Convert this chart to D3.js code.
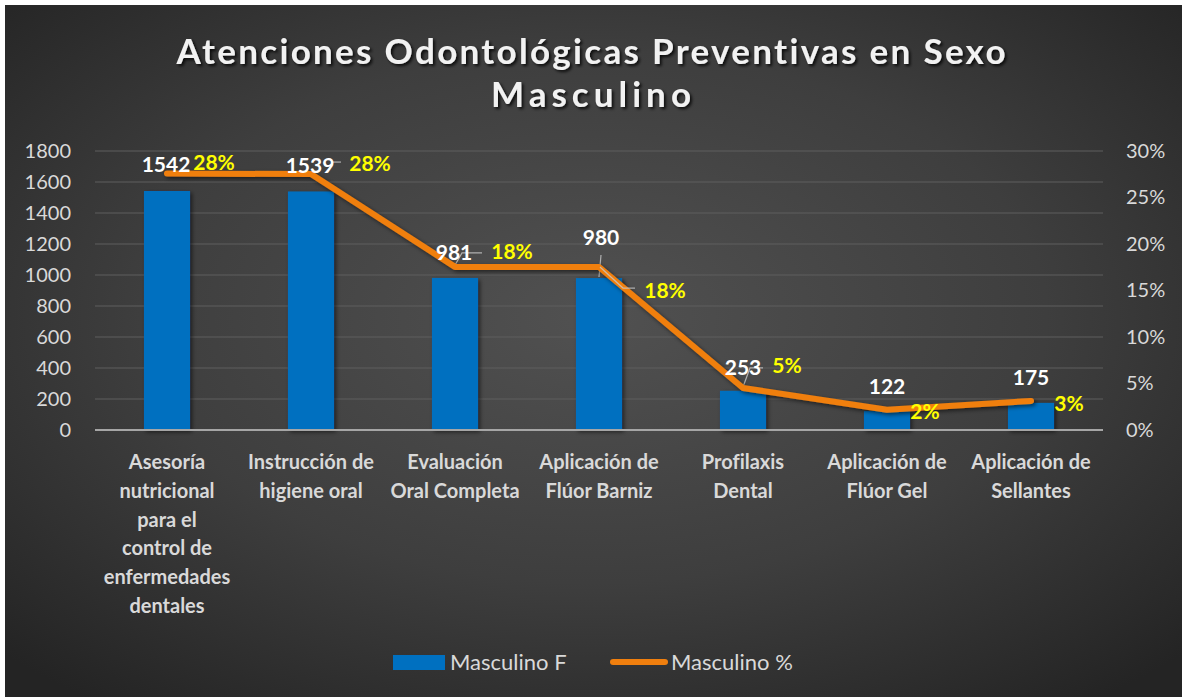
<!DOCTYPE html>
<html>
<head>
<meta charset="utf-8">
<script src="https://cdn.jsdelivr.net/npm/d3@7"></script>
<style>
  body { margin: 0; background: #fff; }
  svg text { font-family: Lato, "Open Sans", sans-serif; font-variant-ligatures: none; }
</style>
</head>
<body>
<svg id="chart"></svg>
<script>
// ---- data ----
const categories = [
  "Asesoría\nnutricional\npara el\ncontrol de\nenfermedades\ndentales",
  "Instrucción de\nhigiene oral",
  "Evaluación\nOral Completa",
  "Aplicación de\nFlúor Barniz",
  "Profilaxis\nDental",
  "Aplicación de\nFlúor Gel",
  "Aplicación de\nSellantes"
];
const counts = [1542, 1539, 981, 980, 253, 122, 175];
const shares = [0.2757, 0.2752, 0.1754, 0.1752, 0.0452, 0.0218, 0.0313];
const leftTicks = [0, 200, 400, 600, 800, 1000, 1200, 1400, 1600, 1800];
const rightTicks = [0, 0.05, 0.10, 0.15, 0.20, 0.25, 0.30];
const seriesNames = ["Masculino F", "Masculino %"];

// label placement (pixel offsets from each line point), layout only
const countOffsets = [[-1, -9], [-1, -9], [-1, -14], [2, -30], [0, -21], [0, -23], [0, -23]];
const shareOffsets = [[47, -11], [59, -11], [57, -15], [66, 23], [44, -23], [38, 2], [38, 3]];
const leaders = [
  null,
  [[22, -12], [30, -12]],
  [[-1, 0], [7, -14], [27, -14]],
  [[2, -12], [0, 10]],
  [[0, -1], [7, -20], [20, -20]],
  null,
  null
];
const leaders2 = [null, null, null, [[1, 0], [24, 21], [36, 21]], null, null, null];

const W = 1182, H = 697;
const margin = {top: 151, right: 79, bottom: 267, left: 95};
const innerW = W - margin.left - margin.right;
const innerH = H - margin.top - margin.bottom;

const svg = d3.select('#chart').attr('width', W).attr('height', H);
const defs = svg.append('defs');

// background gradient
const grad = defs.append('radialGradient')
  .attr('id', 'bg').attr('cx', '50%').attr('cy', '45%').attr('r', '70%');
grad.append('stop').attr('offset', '0%').attr('stop-color', '#515151');
grad.append('stop').attr('offset', '55%').attr('stop-color', '#3e3e3e');
grad.append('stop').attr('offset', '100%').attr('stop-color', '#242424');

const shadow = defs.append('filter').attr('id', 'shadow')
  .attr('x', '-20%').attr('y', '-20%').attr('width', '140%').attr('height', '140%');
shadow.append('feDropShadow').attr('dx', 2).attr('dy', 2).attr('stdDeviation', 2)
  .attr('flood-color', '#000').attr('flood-opacity', 0.55);

const tshadow = defs.append('filter').attr('id', 'tshadow')
  .attr('x', '-5%').attr('y', '-30%').attr('width', '110%').attr('height', '160%');
tshadow.append('feDropShadow').attr('dx', 2).attr('dy', 2).attr('stdDeviation', 1.5)
  .attr('flood-color', '#000').attr('flood-opacity', 0.8);

svg.append('rect').attr('x', 5).attr('y', 5).attr('width', W - 5).attr('height', H - 5)
  .attr('fill', 'url(#bg)');

// title
const title = svg.append('g').attr('filter', 'url(#tshadow)')
  .attr('fill', '#f2f2f2').attr('font-weight', 700).attr('font-size', 35)
  .attr('text-anchor', 'middle');
title.append('text').attr('x', 591).attr('y', 64)
  .attr('textLength', 829).attr('lengthAdjust', 'spacing')
  .text('Atenciones Odontológicas Preventivas en Sexo');
title.append('text').attr('x', 591).attr('y', 107)
  .attr('textLength', 200).attr('lengthAdjust', 'spacing')
  .text('Masculino');

const chart = svg.append('g').attr('transform', `translate(${margin.left},${margin.top})`);

// scales
const x = d3.scaleBand().domain(d3.range(categories.length)).range([0, innerW]);
const yL = d3.scaleLinear().domain([0, 1800]).range([innerH, 0]);
const yR = d3.scaleLinear().domain([0, 0.30]).range([innerH, 0]);
const barW = x.bandwidth() * 0.32;
const cx = i => x(i) + x.bandwidth() / 2;

// gridlines
chart.append('g').selectAll('line').data(leftTicks.slice(1)).join('line')
  .attr('x1', 0).attr('x2', innerW)
  .attr('y1', d => yL(d)).attr('y2', d => yL(d))
  .attr('stroke', '#5e5e5e').attr('stroke-width', 1);

// axes
const yAxisL = d3.axisLeft(yL).tickValues(leftTicks).tickSize(0).tickPadding(24)
  .tickFormat(d3.format('d'));
const yAxisR = d3.axisRight(yR).tickValues(rightTicks).tickSize(0).tickPadding(23)
  .tickFormat(d3.format('.0%'));

chart.append('g').call(yAxisL)
  .call(g => g.select('.domain').remove())
  .call(g => g.selectAll('text').attr('fill', '#d9d9d9').attr('font-size', 20)
    .attr('font-family', 'Lato, sans-serif'));
chart.append('g').attr('transform', `translate(${innerW},0)`).call(yAxisR)
  .call(g => g.select('.domain').remove())
  .call(g => g.selectAll('text').attr('fill', '#d9d9d9').attr('font-size', 20)
    .attr('font-family', 'Lato, sans-serif'));

// bars
chart.append('g').attr('filter', 'url(#shadow)').selectAll('rect').data(counts).join('rect')
  .attr('x', (d, i) => cx(i) - barW / 2)
  .attr('width', barW)
  .attr('y', d => yL(d))
  .attr('height', d => innerH - yL(d))
  .attr('fill', '#0070c0');

// base axis line
chart.append('line').attr('x1', 0).attr('x2', innerW)
  .attr('y1', innerH).attr('y2', innerH)
  .attr('stroke', '#a6a6a6').attr('stroke-width', 2);

// leaders (under the line)
const py = i => yR(shares[i]);
const leaderLine = d3.line();
chart.append('g').selectAll('path')
  .data(leaders.map((l, i) => l ? l.map(p => [cx(i) + p[0], py(i) + p[1]]) : null).filter(d => d))
  .join('path')
  .attr('d', leaderLine).attr('fill', 'none')
  .attr('stroke', '#b0b0b0').attr('stroke-width', 1.2);

// line series
const line = d3.line().x((d, i) => cx(i)).y(d => yR(d));
chart.append('path').datum(shares)
  .attr('d', line).attr('fill', 'none')
  .attr('stroke', '#f07f0e').attr('stroke-width', 6)
  .attr('stroke-linecap', 'round').attr('stroke-linejoin', 'round')
  .attr('filter', 'url(#shadow)');

chart.append('g').selectAll('path')
  .data(leaders2.map((l, i) => l ? l.map(p => [cx(i) + p[0], py(i) + p[1]]) : null).filter(d => d))
  .join('path')
  .attr('d', leaderLine).attr('fill', 'none')
  .attr('stroke', '#c8c8c8').attr('stroke-width', 1.2).attr('opacity', 0.8);

// data labels
chart.append('g').selectAll('text').data(counts).join('text')
  .attr('x', (d, i) => cx(i) + countOffsets[i][0])
  .attr('y', (d, i) => py(i) + countOffsets[i][1])
  .attr('dy', '0.36em')
  .attr('text-anchor', 'middle')
  .attr('font-size', 21).attr('font-weight', 700).attr('fill', '#ffffff')
  .text(d => d);

chart.append('g').selectAll('text').data(shares).join('text')
  .attr('x', (d, i) => cx(i) + shareOffsets[i][0])
  .attr('y', (d, i) => py(i) + shareOffsets[i][1])
  .attr('dy', '0.36em')
  .attr('text-anchor', 'middle')
  .attr('font-size', 21).attr('font-weight', 700).attr('fill', '#ffff00')
  .text(d => d3.format('.0%')(d));

// category labels
const cat = chart.append('g').selectAll('text').data(categories).join('text')
  .attr('x', (d, i) => cx(i))
  .attr('y', innerH + 39)
  .attr('text-anchor', 'middle')
  .attr('font-size', 20).attr('font-weight', 700).attr('fill', '#d9d9d9');
cat.selectAll('tspan').data(d => d.split('\n')).join('tspan')
  .attr('x', function () { return d3.select(this.parentNode).attr('x'); })
  .attr('dy', (d, j) => j === 0 ? 0 : 28.8)
  .text(d => d);

// legend
const legend = svg.append('g').attr('font-size', 22).attr('fill', '#d9d9d9');
legend.append('rect').attr('x', 393).attr('y', 655).attr('width', 52).attr('height', 15)
  .attr('fill', '#0070c0');
legend.append('text').attr('x', 450).attr('y', 662).attr('dy', '0.35em').text(seriesNames[0]);
legend.append('line').attr('x1', 613).attr('x2', 665).attr('y1', 662).attr('y2', 662)
  .attr('stroke', '#f07f0e').attr('stroke-width', 6).attr('stroke-linecap', 'round');
legend.append('text').attr('x', 671).attr('y', 662).attr('dy', '0.35em').text(seriesNames[1]);
</script>
</body>
</html>
